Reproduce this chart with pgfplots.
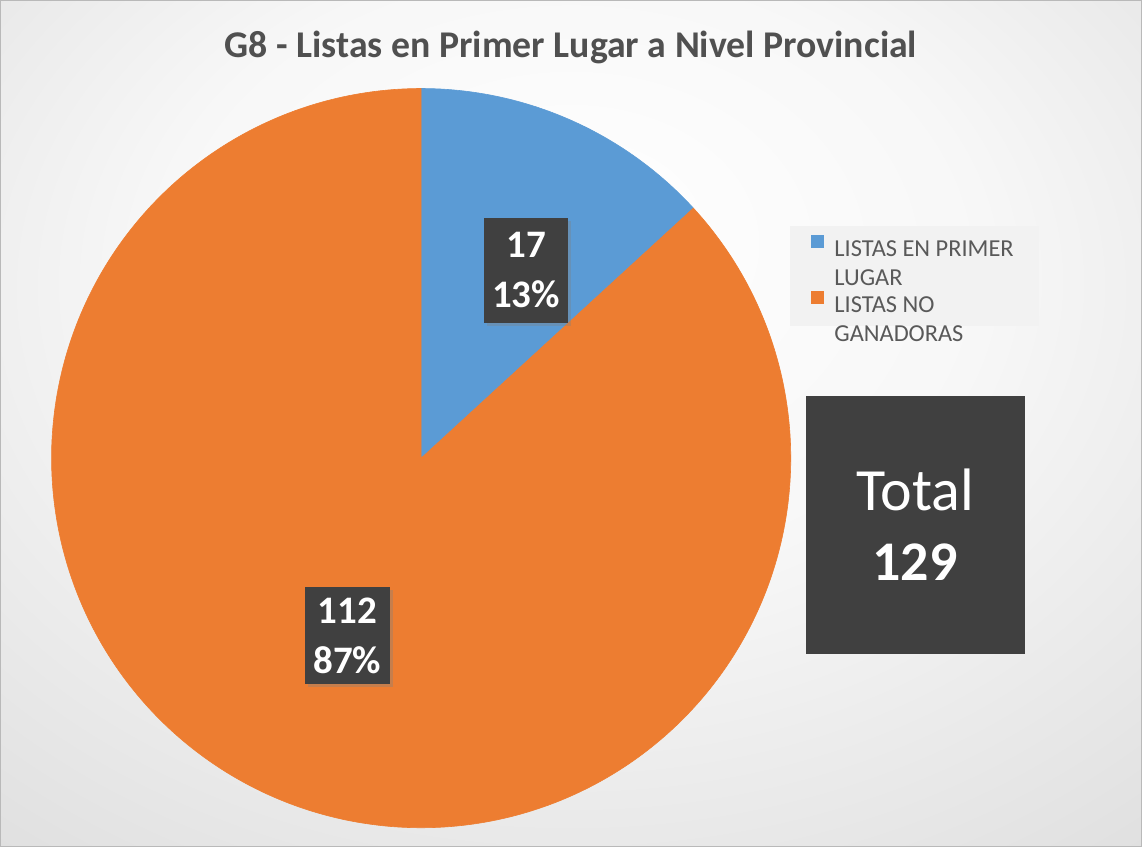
\documentclass[border=0pt]{standalone}
\usepackage{pgfplots}
\pgfplotsset{compat=1.18}
\usepackage{pgfplotstable}
\usepackage{fontspec}
\setmainfont{Carlito}
\usetikzlibrary{shadows}

\definecolor{cblue}{HTML}{5B9BD5}
\definecolor{corange}{HTML}{ED7D31}
\definecolor{boxgray}{HTML}{404040}
\definecolor{txtgray}{HTML}{595959}
\definecolor{titlegray}{HTML}{505050}

\pgfplotstableread{
label value
primer 17
noganadoras 112
}\piedata

\pgfdeclareradialshading{bgshade}{\pgfpoint{0bp}{12bp}}{color(0bp)=(white);color(18bp)=(white!97!black);color(72bp)=(white!74!black)}

\begin{document}
\begin{tikzpicture}
\pgfplotstablegetelem{0}{value}\of\piedata \let\va\pgfplotsretval
\pgfplotstablegetelem{1}{value}\of\piedata \let\vb\pgfplotsretval
\pgfmathtruncatemacro\tot{\va+\vb}
\pgfmathsetmacro\angA{90-360*\va/\tot}
\pgfmathtruncatemacro\pa{round(100*\va/\tot)}
\pgfmathtruncatemacro\pb{round(100*\vb/\tot)}
\begin{axis}[
  width=571pt, height=423.5pt, scale only axis,
  xmin=0, xmax=1142, ymin=0, ymax=847,
  axis lines=none, clip=false,
  legend cell align=left,
  legend image code/.code={\fill[#1, draw=none] (0pt,0pt) rectangle (6.5pt,6.5pt);},
  legend style={at={(0.692,0.734)}, anchor=north west, fill=white!95!black, draw=none,
    font=\fontsize{12.2}{14.5}\selectfont, text=txtgray,
    inner xsep=10.5pt, inner ysep=3pt, row sep=12.5pt,
    /tikz/every odd column/.append style={column sep=3pt}},
]
\shade[shading=bgshade] (axis cs:0,0) rectangle (axis cs:1142,847);
\draw[gray!55, line width=0.6pt] (axis cs:0,0) rectangle (axis cs:1142,847);

\addplot[fill=cblue, draw=cblue, line width=0.3pt, domain=\angA:90, samples=80]
  ({421+370*cos(x)},{389+370*sin(x)}) -- (axis cs:421,389) -- cycle;
\addlegendentry{\begin{tabular}[t]{@{}l@{}}LISTAS EN PRIMER\\LUGAR\end{tabular}}
\addplot[fill=corange, draw=corange, line width=0.3pt, domain=-270:\angA, samples=360]
  ({421+370*cos(x)},{389+370*sin(x)}) -- (axis cs:421,389) -- cycle;
\addlegendentry{\begin{tabular}[t]{@{}l@{}}LISTAS NO\\GANADORAS\end{tabular}}

\node[font=\fontsize{18.9}{22}\selectfont\bfseries, text=titlegray] at (axis cs:571,800) {G8 - Listas en Primer Lugar a Nivel Provincial};

\node[fill=boxgray, text=white, minimum width=42pt, minimum height=52.5pt, inner sep=0pt,
  align=center, font=\fontsize{19.5}{25}\selectfont\bfseries,
  drop shadow={opacity=0.35, shadow xshift=1.5pt, shadow yshift=-1.5pt}]
  at (axis cs:526,577) {\va\\\pa\%};
\node[fill=boxgray, text=white, minimum width=42.5pt, minimum height=48.5pt, inner sep=0pt,
  align=center, font=\fontsize{19.5}{25}\selectfont\bfseries,
  drop shadow={opacity=0.35, shadow xshift=1.5pt, shadow yshift=-1.5pt}]
  at (axis cs:347,211) {\vb\\\pb\%};

\node[fill=boxgray, text=white, minimum width=109.5pt, minimum height=129.5pt, inner sep=0pt,
  align=center, font=\fontsize{30}{35}\selectfont] at (axis cs:915.5,322)
  {Total\\{\fontsize{28}{35}\selectfont\bfseries \tot}};
\end{axis}
\end{tikzpicture}
\end{document}
